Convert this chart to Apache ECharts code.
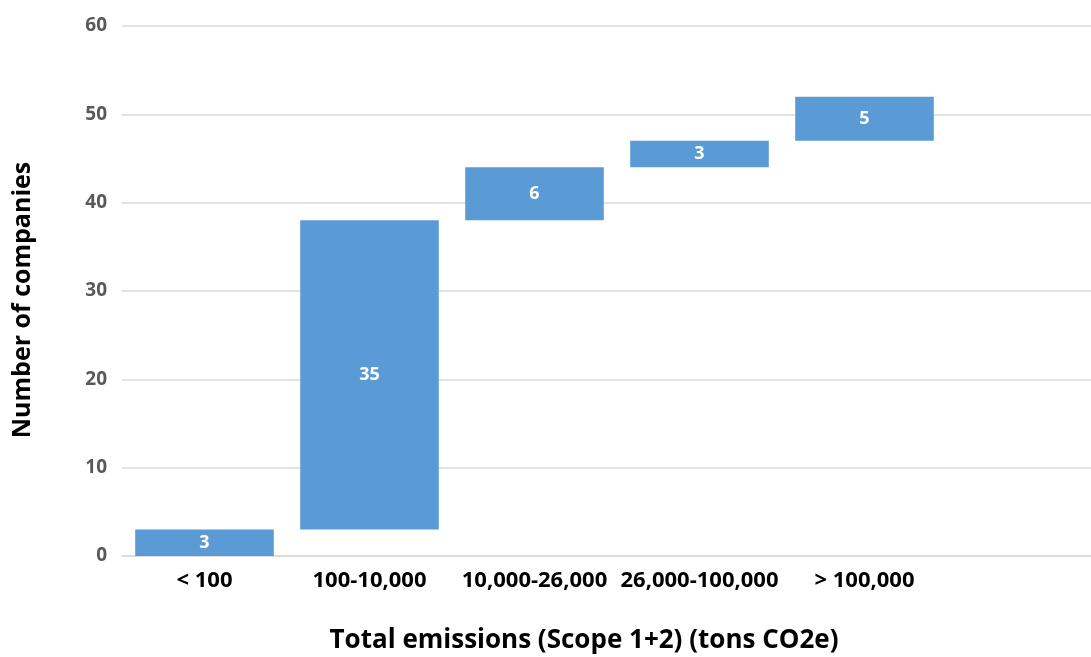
<!DOCTYPE html>
<html>
<head>
<meta charset="utf-8">
<script src="https://cdn.jsdelivr.net/npm/echarts@6/dist/echarts.min.js"></script>
<style>
html,body{margin:0;padding:0;background:#fff;}
#main{width:1091px;height:657px;}
</style>
</head>
<body>
<div id="main"></div>
<script>
const categories = ['< 100', '100-10,000', '10,000-26,000', '26,000-100,000', '> 100,000', ''];
const values = [3, 35, 6, 3, 5, null];
const yTicks = [0, 10, 20, 30, 40, 50, 60];
const xTitle = 'Total emissions (Scope 1+2) (tons CO2e)';
const yTitle = 'Number of companies';

// waterfall base: running total of previous steps
const base = [];
let run = 0;
values.forEach(v => { if (v === null) { base.push(null); } else { base.push(run); run += v; } });

const FONT = '"Open Sans", "Noto Sans", sans-serif';
const chart = echarts.init(document.getElementById('main'));
chart.setOption({
  animation: false,
  backgroundColor: '#fff',
  grid: { left: 122, top: 26, bottom: 101, right: -21, outerBoundsMode: 'none', containLabel: false },
  xAxis: {
    type: 'category',
    data: categories,
    axisLine: { show: true, lineStyle: { color: '#d9d9d9', width: 1.5 } },
    axisTick: { show: false },
    axisLabel: { color: '#000', fontFamily: FONT, fontWeight: 'bold', fontSize: 22, margin: 14, interval: 0 }
  },
  yAxis: {
    type: 'value',
    min: yTicks[0], max: yTicks[yTicks.length - 1], interval: 10,
    axisLine: { show: false },
    axisTick: { show: false },
    axisLabel: { color: '#595959', fontFamily: FONT, fontWeight: 'bold', fontSize: 19, margin: 15 },
    splitLine: { lineStyle: { color: '#d9d9d9', width: 1.5 } }
  },
  graphic: [{
    type: 'text', x: 584, y: 641,
    style: { text: xTitle, fill: '#000', font: 'bold 26px ' + FONT, align: 'center', verticalAlign: 'middle' }
  }, {
    type: 'text', x: 23, y: 300, rotation: Math.PI / 2,
    style: { text: yTitle, fill: '#000', font: 'bold 25px ' + FONT, align: 'center', verticalAlign: 'middle' }
  }],
  series: [
    {
      type: 'bar', stack: 'w', data: base, barCategoryGap: '16%',
      itemStyle: { color: 'transparent' }, silent: true
    },
    {
      type: 'bar', stack: 'w', data: values, barCategoryGap: '16%',
      itemStyle: { color: '#5b9bd5' },
      label: { show: true, position: 'inside', color: '#fff', fontFamily: FONT, fontWeight: 'bold', fontSize: 18 }
    }
  ]
});
</script>
</body>
</html>
